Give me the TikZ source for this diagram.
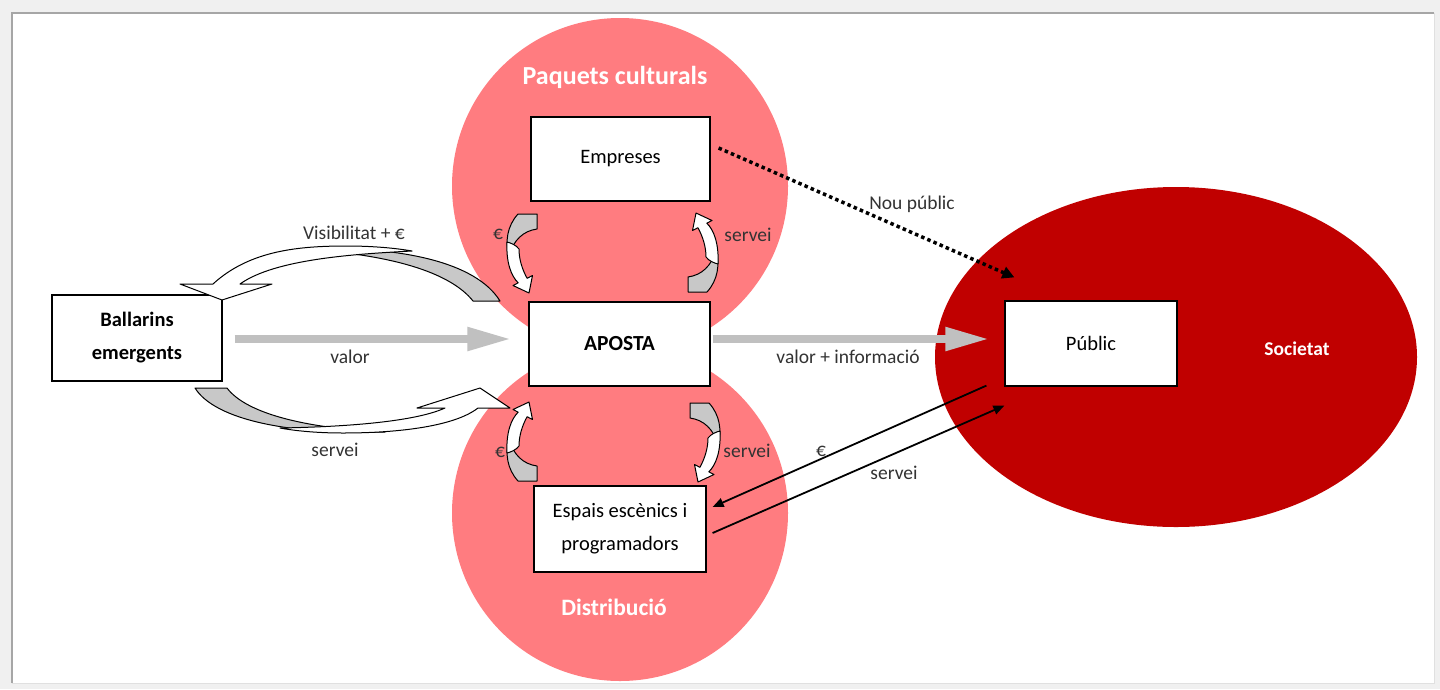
\documentclass[tikz,border=0pt]{standalone}
\usepackage{fontspec}
\setmainfont{Carlito}
\usetikzlibrary{arrows.meta,shapes.geometric,calc}
\definecolor{pinkc}{RGB}{255,124,128}
\definecolor{socred}{RGB}{192,0,0}
\definecolor{arrgray}{RGB}{200,200,200}
\definecolor{bigarrc}{RGB}{192,192,192}
\newcommand\smallcurv{%
  \filldraw[curvg] (-4,-40) .. controls (-15,-28) and (-17,-12) .. (-13,1)
     .. controls (-8,-14) and (1,-23) .. (15,-25) -- (15,-40) -- cycle;
  \filldraw[curvw] (-15,-12) .. controls (-16,8) and (-11,22) .. (-3.8,28.8)
     -- (-9,31.5) -- (7,39) -- (10.5,21.5) -- (5.1,24.3)
     .. controls (0,15) and (-3,5) .. (-3,-5)
     .. controls (-6,-9) and (-11,-11) .. (-15,-12) -- cycle;
}
\begin{document}
\begin{tikzpicture}[x=1pt,y=-1pt,
  box/.style={draw=black, line width=1.2pt, fill=white, inner sep=0pt, align=center,
    font=\fontsize{20.5}{33}\selectfont},
  lbl/.style={font=\fontsize{19.5}{21}\selectfont, text=black!80, inner sep=0pt},
  ttl/.style={font=\fontsize{23.5}{26}\selectfont\bfseries, text=white, inner sep=0pt},
  curvw/.style={fill=white, draw=black, line width=1pt, line join=round},
  curvg/.style={fill=arrgray, draw=black, line width=1pt, line join=round},
  bigarrow/.style={draw=bigarrc, line width=8pt, -{Triangle[length=44pt,width=22pt]}},
  dotarrow/.style={draw=black, line width=3.5pt, dash pattern=on 3.5pt off 3.2pt,
    -{Triangle[length=12pt,width=12pt]}},
  thinarrow/.style={draw=black, line width=1.8pt, -{Triangle[length=11pt,width=9pt]}}]
\useasboundingbox (0,0) rectangle (1440,689);
\fill[black!6] (0,0) rectangle (1440,689);
\fill[white] (12,13) rectangle (1434,683);
\draw[black!35, line width=2pt] (12,683) -- (12,13) -- (1434,13);
\draw[black!12, line width=1pt] (1434,13) -- (1434,683) -- (12,683);

% big shapes
\node[circle, fill=pinkc, minimum size=336pt, inner sep=0pt] (paq) at (620,186) {};
\node[circle, fill=pinkc, minimum size=336pt, inner sep=0pt] (dist) at (620,513) {};
\node[ellipse, fill=socred, minimum width=482pt, minimum height=340pt, inner sep=0pt] (soc) at (1176,357) {};

\node[ttl, font=\fontsize{26}{28}\selectfont\bfseries] (tpaq) at (615,77) {Paquets culturals};
\node[ttl] (tdist) at (614,607) {Distribució};
\node[ttl, font=\fontsize{19.5}{22}\selectfont\bfseries] (tsoc) at (1297,349) {Societat};

% boxes
\node[box, minimum width=179pt, minimum height=84pt] (emp) at (620.5,159) {Empreses};
\node[box, minimum width=181pt, minimum height=84pt, font=\fontsize{21.5}{33}\selectfont\bfseries] (aposta) at (619.5,344) {APOSTA};
\node[box, minimum width=172pt, minimum height=86pt] (esp) at (620,529) {Espais escènics i\\programadors};
\node[box, minimum width=170pt, minimum height=86pt, font=\fontsize{20.5}{33}\selectfont\bfseries] (ball) at (137,338) {Ballarins\\emergents};
\node[box, minimum width=172pt, minimum height=85pt] (pub) at (1091,343.5) {Públic};

% big curved arrows
\filldraw[curvg] (300,249) .. controls (400,245) and (476,262) .. (500,301)
   -- (473,301) .. controls (450,272) and (390,254) .. (300,249) -- cycle;
\filldraw[curvw] (213,284) .. controls (250,250) and (300,246) .. (347,246)
   .. controls (372,246) and (395,248) .. (412,251)
   .. controls (355,254) and (275,259) .. (240,284)
   -- (272,284) -- (222,300) -- (180,284) -- cycle;

\filldraw[curvg] (385,432) .. controls (290,435) and (215,420) .. (195,388)
   -- (227,388) .. controls (245,412) and (300,428) .. (385,432) -- cycle;
\filldraw[curvw] (478,408) .. controls (455,426) and (400,433) .. (343,433)
   .. controls (318,433) and (296,431) .. (280,428)
   .. controls (335,427) and (412,423) .. (445,408)
   -- (417,408) -- (480,388) -- (510,408) -- cycle;

% small curved arrows
\begin{scope}[shift={(522,254)}]\smallcurv\end{scope}
\begin{scope}[shift={(703,252)}, rotate=180]\smallcurv\end{scope}
\begin{scope}[shift={(522,441)}, yscale=-1]\smallcurv\end{scope}
\begin{scope}[shift={(705,443)}, xscale=-1]\smallcurv\end{scope}

% straight arrows
\coordinate (vy) at (0,339);
\draw[bigarrow, shorten <=12pt, shorten >=17pt] (ball.east|-vy) -- (aposta.west|-vy);
\draw[bigarrow, shorten <=2pt, shorten >=15pt] (aposta.east|-vy) -- (pub.west|-vy);
\draw[dotarrow] ($(emp.east)+(8,-11)$) -- ($(pub.north west)+(10,-23)$);
\draw[thinarrow] ($(pub.south west)+(-18,-1)$) -- ($(esp.east)+(6,-22)$);
\draw[thinarrow] ($(esp.east)+(6,4)$) -- ($(pub.south west)+(0,19)$);

% labels
\node[lbl] (l1) at (354,233) {Visibilitat + €};
\node[lbl] (l2) at (350,357) {valor};
\node[lbl] (l3) at (335,450) {servei};
\node[lbl] (l4) at (498,234) {€};
\node[lbl] (l5) at (748,235) {servei};
\node[lbl] (l6) at (500,452) {€};
\node[lbl] (l7) at (747,451) {servei};
\node[lbl] (l8) at (912,204) {Nou públic};
\node[lbl] (l9) at (848,357) {valor + informació};
\node[lbl] (l10) at (821,451) {€};
\node[lbl] (l11) at (894,473) {servei};
\end{tikzpicture}
\end{document}
